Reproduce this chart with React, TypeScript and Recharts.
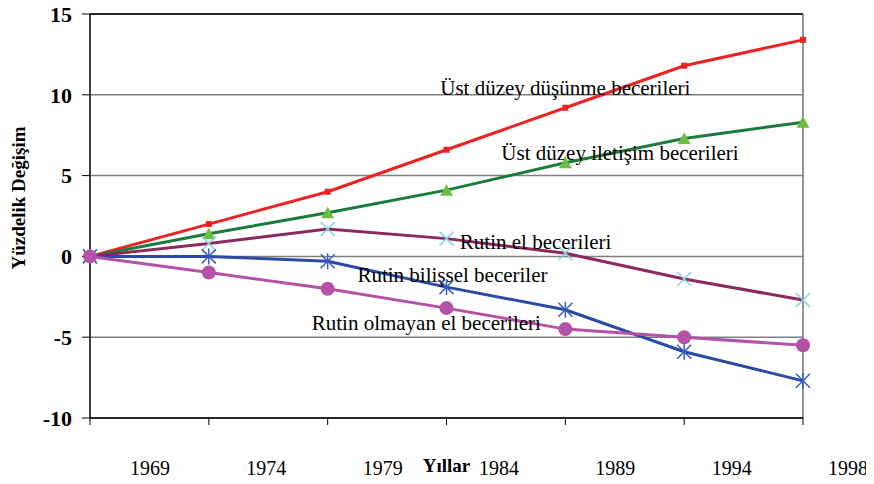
import React from "react";
import {
  LineChart,
  Line,
  XAxis,
  YAxis,
  CartesianGrid,
  ReferenceLine,
  ReferenceDot,
} from "recharts";

// tick labels of the x axis (Excel put them between the points)
const yearLabels: string[] = ["1969", "1974", "1979", "1984", "1989", "1994", "1998"];

// series values, percent change
const dusunme: number[] = [0, 2.0, 4.0, 6.6, 9.2, 11.8, 13.4];
const iletisim: number[] = [0, 1.4, 2.7, 4.1, 5.8, 7.3, 8.3];
const rutinEl: number[] = [0, 0.8, 1.7, 1.1, 0.2, -1.4, -2.7];
const rutinBilissel: number[] = [0, 0.0, -0.3, -1.9, -3.3, -5.9, -7.7];
const rutinOlmayan: number[] = [0, -1.0, -2.0, -3.2, -4.5, -5.0, -5.5];

const yTicks: number[] = [-10, -5, 0, 5, 10, 15];

interface annotation {
  text: string;
  x: number;
  y: number;
}

// series names written inside the plot
const annotations: annotation[] = [
  { text: "Üst düzey düşünme becerileri", x: 4.0, y: 10.4 },
  { text: "Üst düzey iletişim becerileri", x: 4.46, y: 6.4 },
  { text: "Rutin el becerileri", x: 3.75, y: 0.87 },
  { text: "Rutin bilişsel beceriler", x: 3.05, y: -1.18 },
  { text: "Rutin olmayan el becerileri", x: 2.83, y: -4.1 },
];

const FONT = "Liberation Serif, DejaVu Serif, serif";

const data = yearLabels.map((_, i) => ({
  idx: i,
  dusunme: dusunme[i],
  iletisim: iletisim[i],
  rutinEl: rutinEl[i],
  rutinBilissel: rutinBilissel[i],
  rutinOlmayan: rutinOlmayan[i],
}));

// Markers

const SquareDot = (p: any) => (
  <rect key={p.index} x={p.cx - 3} y={p.cy - 3} width={6} height={6} fill="#ee2222" />
);

const TriangleDot = (p: any) => (
  <polygon
    key={p.index}
    points={`${p.cx},${p.cy - 6} ${p.cx + 6.5},${p.cy + 5.5} ${p.cx - 6.5},${p.cy + 5.5}`}
    fill="#6cbd45"
  />
);

const CrossDot = (p: any) => (
  <g key={p.index} stroke="#85d2e2" strokeWidth={1.5}>
    <line x1={p.cx - 7} y1={p.cy - 7} x2={p.cx + 7} y2={p.cy + 7} />
    <line x1={p.cx - 7} y1={p.cy + 7} x2={p.cx + 7} y2={p.cy - 7} />
  </g>
);

const StarDot = (p: any) => (
  <g key={p.index} stroke="#3a5cc0" strokeWidth={1.5}>
    <line x1={p.cx - 7} y1={p.cy - 7} x2={p.cx + 7} y2={p.cy + 7} />
    <line x1={p.cx - 7} y1={p.cy + 7} x2={p.cx + 7} y2={p.cy - 7} />
    <line x1={p.cx} y1={p.cy - 8} x2={p.cx} y2={p.cy + 8} />
  </g>
);

const CircleDot = (p: any) => (
  <circle key={p.index} cx={p.cx} cy={p.cy} r={7} fill="#b651a8" />
);

const XTick = (p: any) => {
  const i: number = p.payload.value;
  return (
    <text
      x={p.x + 60 - i * 2.5}
      y={p.y + 48}
      textAnchor="middle"
      style={{ fontFamily: FONT, fontSize: 20 }}
      fill="#000"
    >
      {yearLabels[i]}
    </text>
  );
};

const NoteText = (text: string) => (p: any) => (
  <text
    x={p.cx}
    y={p.cy}
    textAnchor="middle"
    dominantBaseline="central"
    style={{ fontFamily: FONT, fontSize: 21 }}
    fill="#000"
  >
    {text}
  </text>
);

function App() {
  return (
    <div style={{ fontFamily: FONT }}>
      <LineChart
        width={866}
        height={476}
        data={data}
        margin={{ top: 6, right: 71, left: 10, bottom: 6 }}
        style={{ fontFamily: FONT }}
      >
        <CartesianGrid vertical={false} stroke="#808080" strokeWidth={1.5} />
        <XAxis
          dataKey="idx"
          type="number"
          domain={[0, 6]}
          ticks={[0, 1, 2, 3, 4, 5, 6]}
          interval={0}
          height={60}
          tick={<XTick />}
          tickSize={7}
          axisLine={{ stroke: "#000", strokeWidth: 1.5 }}
          tickLine={{ stroke: "#000" }}
          label={{
            value: "Yıllar",
            position: "insideBottom",
            offset: 6,
            fill: "#000",
            fontSize: 19,
            fontWeight: "bold",
            style: { fontFamily: FONT },
          }}
        />
        <YAxis
          domain={[-10, 15]}
          ticks={yTicks}
          interval={0}
          width={72}
          tickSize={8}
          tickMargin={10}
          tick={{ fill: "#000", fontSize: 22, fontWeight: "bold", style: { fontFamily: FONT } }}
          axisLine={{ stroke: "#000", strokeWidth: 1.5 }}
          tickLine={{ stroke: "#000" }}
          label={{
            value: "Yüzdelik Değişim",
            angle: -90,
            position: "insideLeft",
            offset: 0,
            dy: -18,
            fill: "#000",
            fontSize: 19,
            fontWeight: "bold",
            style: { textAnchor: "middle", fontFamily: FONT },
          }}
        />
        <ReferenceLine y={15} stroke="#000" strokeWidth={1.5} />
        <ReferenceLine x={6} stroke="#707070" strokeWidth={1.5} />
        {annotations.map((a) => (
          <ReferenceDot
            key={a.text}
            x={a.x}
            y={a.y}
            r={0}
            ifOverflow="visible"
            shape={NoteText(a.text)}
          />
        ))}
        <Line
          dataKey="dusunme"
          stroke="#ee2222"
          strokeWidth={3}
          dot={SquareDot}
          isAnimationActive={false}
        />
        <Line
          dataKey="iletisim"
          stroke="#1b7b3b"
          strokeWidth={3}
          dot={TriangleDot}
          isAnimationActive={false}
        />
        <Line
          dataKey="rutinEl"
          stroke="#8c2961"
          strokeWidth={3}
          dot={CrossDot}
          isAnimationActive={false}
        />
        <Line
          dataKey="rutinBilissel"
          stroke="#2b49a6"
          strokeWidth={3}
          dot={StarDot}
          isAnimationActive={false}
        />
        <Line
          dataKey="rutinOlmayan"
          stroke="#b651a8"
          strokeWidth={3}
          dot={CircleDot}
          isAnimationActive={false}
        />
      </LineChart>
    </div>
  );
}

export default App;
